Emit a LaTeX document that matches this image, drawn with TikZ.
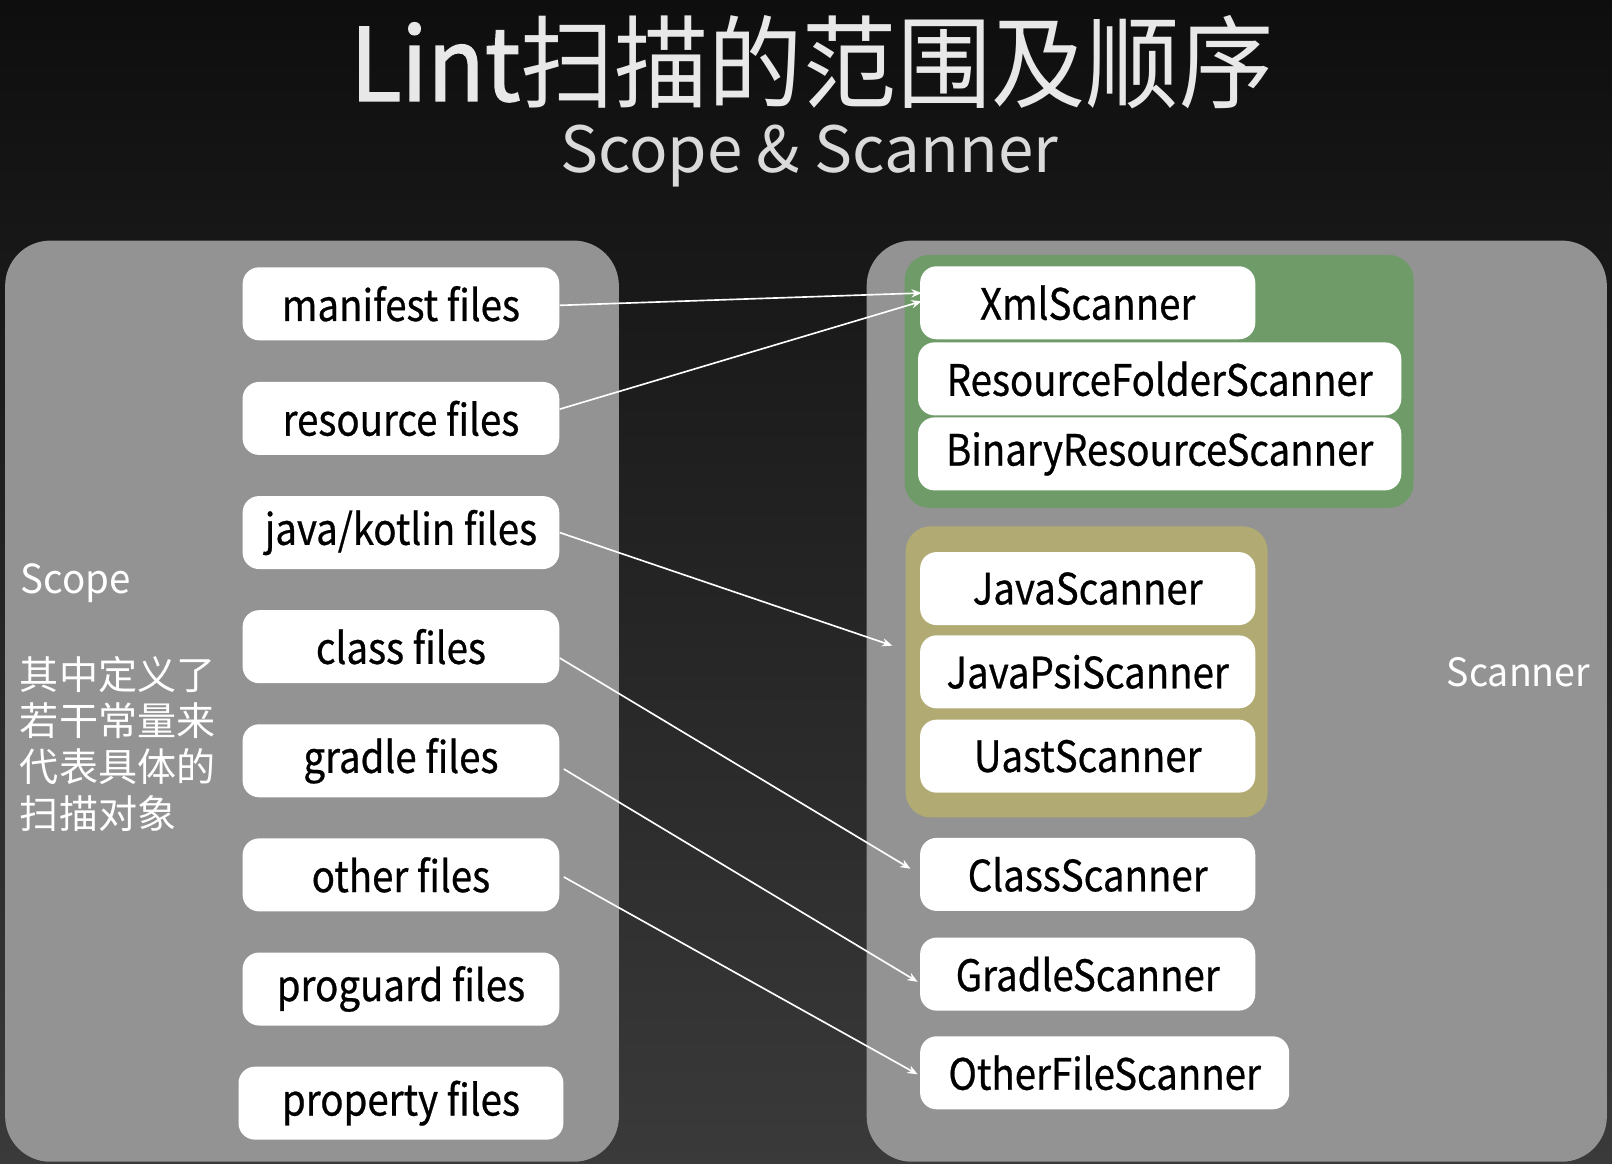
\documentclass[tikz,border=0pt]{standalone}
\usepackage{fontspec}
\newfontfamily\cjk{Noto Sans CJK SC}
\newfontfamily\cjkn[FakeStretch=0.89, FakeBold=0.6]{Noto Sans CJK SC}
\newfontfamily\cjkt[FakeStretch=0.935]{Noto Sans CJK SC}
\newfontfamily\cjktb[FakeStretch=0.935, FakeBold=1.5]{Noto Sans CJK SC}
\newfontfamily\cjkl[FakeStretch=0.96]{Noto Sans CJK SC}
\usetikzlibrary{arrows.meta,calc}
\definecolor{bgtop}{HTML}{0E0E0E}
\definecolor{bgbot}{HTML}{3A3A3A}
\definecolor{panelgray}{HTML}{939393}
\definecolor{grpgreen}{HTML}{6F9B69}
\definecolor{grpolive}{HTML}{B1AB73}
\definecolor{titlegray}{HTML}{E8E8E8}
\definecolor{subgray}{HTML}{DADADA}
\tikzset{
  panel/.style={fill=panelgray, rounded corners=22pt},
  wbox/.style={fill=white, rounded corners=8pt, minimum height=35.5pt, text=black, inner sep=0pt,
    font=\cjkn\fontsize{21}{24}\selectfont},
  arr/.style={draw=white, line width=0.8pt, -{Stealth[length=5pt,width=4pt]}},
  lbl/.style={text=white, inner sep=0pt}
}
\begin{document}
\begin{tikzpicture}[x=0.5pt,y=-0.5pt]
\fill[top color=bgtop, bottom color=bgbot] (0,0) rectangle (1568,1132);
\useasboundingbox (0,0) rectangle (1568,1132);
% title
\node[lbl, anchor=base, text=titlegray, font=\cjkt\fontsize{49}{50}\selectfont] (title) at (790,98) {{\cjktb Lint}扫描的范围及顺序};
\node[lbl, anchor=base, text=subgray, font=\cjk\fontsize{31}{34}\selectfont] (subtitle) at (787,168) {Scope \& Scanner};
% panels
\fill[panel] (5,234) rectangle (602,1130);
\fill[panel] (843,234) rectangle (1563,1130);
\fill[grpgreen, rounded corners=12pt] (880,248) rectangle (1375,494);
\fill[grpolive, rounded corners=12pt] (881,512) rectangle (1233,795);
% left labels
\node[lbl, anchor=base west, font=\cjkl\fontsize{19.5}{24}\selectfont] (scopelbl) at (20,577) {Scope};
\node[lbl, anchor=north west, align=left, font=\cjk\fontsize{19}{22.5}\selectfont] (scopedesc) at (19,638) {其中定义了\\若干常量来\\代表具体的\\扫描对象};
\node[lbl, anchor=base west, font=\cjkl\fontsize{19}{24}\selectfont] (scannerlbl) at (1407,668) {Scanner};
% left boxes
\node[wbox, minimum width=154pt] (manifest) at (390,295.5) {manifest files};
\node[wbox, minimum width=154pt] (resource) at (390,407) {resource files};
\node[wbox, minimum width=154pt] (javaf) at (390,518) {java/kotlin files};
\node[wbox, minimum width=154pt] (classf) at (390,629) {class files};
\node[wbox, minimum width=154pt] (gradlef) at (390,740) {gradle files};
\node[wbox, minimum width=154pt] (otherf) at (390,851) {other files};
\node[wbox, minimum width=154pt] (proguardf) at (390,962) {proguard files};
\node[wbox, minimum width=158pt] (propertyf) at (390,1073) {property files};
% right boxes
\node[wbox, minimum width=163pt] (xml) at (1058,294.5) {XmlScanner};
\node[wbox, minimum width=235pt] (resfolder) at (1128,368.5) {ResourceFolderScanner};
\node[wbox, minimum width=235pt] (binres) at (1128,441.5) {BinaryResourceScanner};
\node[wbox, minimum width=163pt] (javas) at (1058,572.5) {JavaScanner};
\node[wbox, minimum width=163pt] (javapsi) at (1058,653.5) {JavaPsiScanner};
\node[wbox, minimum width=163pt] (uast) at (1058,735.5) {UastScanner};
\node[wbox, minimum width=163pt] (classs) at (1058,850.5) {ClassScanner};
\node[wbox, minimum width=163pt] (gradles) at (1058,947.5) {GradleScanner};
\node[wbox, minimum width=179.5pt] (otherfs) at (1074.5,1043.5) {OtherFileScanner};
% arrows
\coordinate (jend) at (868,628);
\draw[arr] ($(manifest.east)+(0,1.5)$) -- ($(xml.west)+(2,-9.5)$);
\draw[arr] ($(resource.east)+(0,-9)$) -- ($(xml.west)+(2,-1.5)$);
\draw[arr] (javaf.east) -- (jend);
\draw[arr] ($(classf.east)+(0,11)$) -- ($(classs.west)+(-9,-5.5)$);
\draw[arr] ($(gradlef.east)+(4,8)$) -- ($(gradles.west)+(-2,7.5)$);
\draw[arr] ($(otherf.east)+(4,2)$) -- ($(otherfs.west)+(-2,1.5)$);
\end{tikzpicture}
\end{document}
